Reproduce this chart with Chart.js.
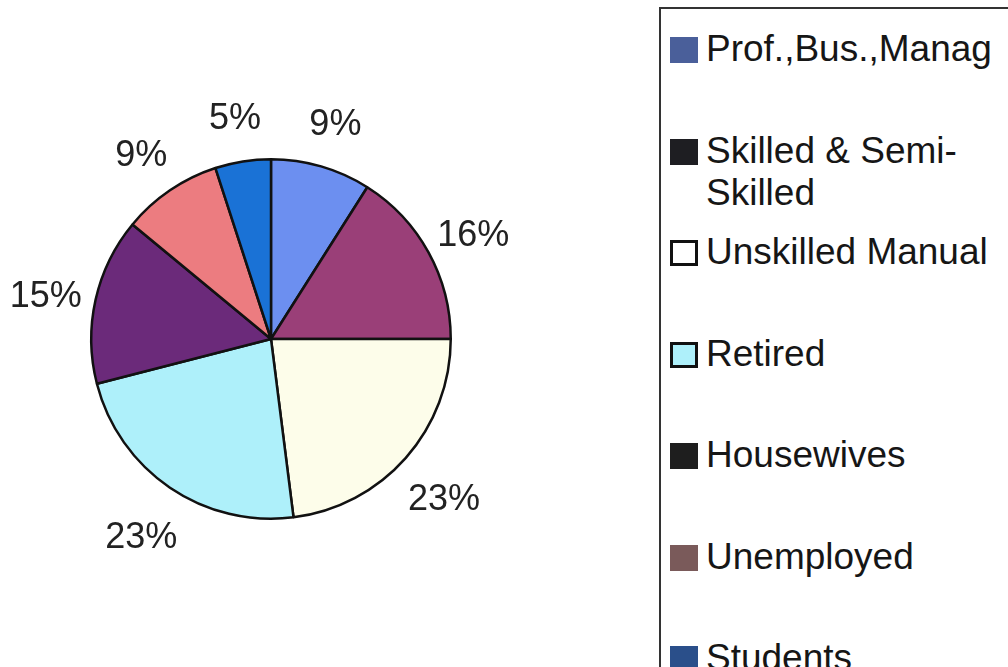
<!DOCTYPE html>
<html>
<head>
<meta charset="utf-8">
<script src="https://cdn.jsdelivr.net/npm/chart.js@4/dist/chart.umd.min.js"></script>
<style>
  body { margin: 0; background: #fff; width: 1008px; height: 667px; overflow: hidden; position: relative; font-family: "Liberation Sans", Arial, sans-serif; }
  #pieWrap { position: absolute; left: 0; top: 0; width: 542px; height: 667px; }
  #legendBox { position: absolute; left: 659px; top: 7px; width: 360px; height: 670px; border-left: 2px solid #333; border-top: 2px solid #333; }
  .item { position: absolute; left: 9px; width: 345px; font-size: 37px; line-height: 42px; color: #161616; padding-left: 36px; white-space: nowrap; }
  .sw { position: absolute; left: 0; top: 9px; width: 28px; height: 26px; box-sizing: border-box; }
</style>
</head>
<body>
<div id="pieWrap"><canvas id="pieChart"></canvas></div>
<div id="legendBox"></div>
<script>
// categories and their shares (percent)
let categories = ['Prof.,Bus.,Manag', 'Skilled & Semi-Skilled', 'Unskilled Manual', 'Retired', 'Housewives', 'Unemployed', 'Students'];
let shares = [9, 16, 23, 23, 15, 9, 5];

// slice colours as seen in the pie
let sliceColors = ['#6c8ff0', '#9a3f78', '#fdfdea', '#aef0fa', '#6b2a7a', '#ec7c80', '#1a72d6'];
// legend swatches came out differently in the original, keep them as they are
let legendColors = ['#4a5f9a', '#1e1e22', '#ffffff', '#aef0fa', '#1e1e1e', '#7a5a5a', '#2a4f8a'];
let legendText = ['Prof.,Bus.,Manag', 'Skilled &amp; Semi-<br>Skilled', 'Unskilled Manual', 'Retired', 'Housewives', 'Unemployed', 'Students'];

// draws the percentage outside every slice
let pctLabels = {
    id: 'pctLabels',
    afterDatasetsDraw: function(chart) {
        let ctx = chart.ctx;
        let arcs = chart.getDatasetMeta(0).data;
        ctx.save();
        ctx.font = '36px "Liberation Sans", Arial, sans-serif';
        ctx.fillStyle = '#222';
        ctx.textAlign = 'center';
        ctx.textBaseline = 'middle';
        for (let i = 0; i < arcs.length; i++) {
            let a = arcs[i];
            let mid = (a.startAngle + a.endAngle) / 2;
            let r = a.outerRadius + 51;
            // labels sit a little lower than the exact radial spot in the original
            ctx.fillText(shares[i] + '%', a.x + Math.cos(mid) * r, a.y + Math.sin(mid) * r + 8);
        }
        ctx.restore();
    }
};

new Chart(document.getElementById('pieChart'), {
    type: 'pie',
    data: {
        labels: categories,
        datasets: [{
            data: shares,
            backgroundColor: sliceColors,
            borderColor: '#111',
            borderWidth: 2.5
        }]
    },
    options: {
        responsive: true,
        maintainAspectRatio: false,
        animation: false,
        layout: { padding: { left: 90, right: 90, top: 158, bottom: 147 } },
        plugins: { legend: { display: false }, tooltip: { enabled: false } }
    },
    plugins: [pctLabels]
});

// legend on the right, one row every ~101px
let box = document.getElementById('legendBox');
for (let i = 0; i < categories.length; i++) {
    let item = document.createElement('div');
    item.className = 'item';
    item.style.top = (19 + i * 101.5) + 'px';
    let border = (i === 2 || i === 3) ? 'border:3px solid #111;' : '';
    item.innerHTML = '<span class="sw" style="background:' + legendColors[i] + ';' + border + '"></span>' + legendText[i];
    box.appendChild(item);
}
</script>
</body>
</html>
